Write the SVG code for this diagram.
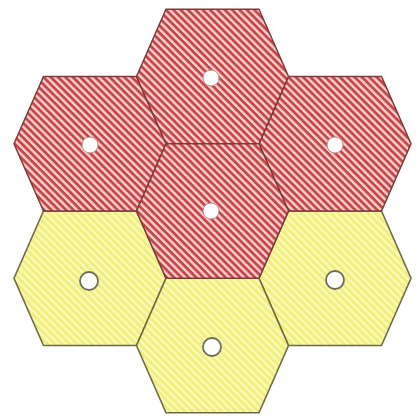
<svg xmlns="http://www.w3.org/2000/svg" width="416" height="417" viewBox="0 0 416 417">
<defs>
<pattern id="red" patternUnits="userSpaceOnUse" width="5.2" height="5.2" patternTransform="rotate(45)">
<rect width="5.2" height="5.2" fill="#f7d2cf"/>
<rect width="5.2" height="2.8" fill="#c8454a"/>
</pattern>
<pattern id="yel" patternUnits="userSpaceOnUse" width="5.2" height="5.2" patternTransform="rotate(45)">
<rect width="5.2" height="5.2" fill="#f1ef78"/>
<rect width="5.2" height="2.1" fill="#fbfac4"/>
</pattern>
<polygon id="hex" points="-76,0 -46.5,-67.25 46.5,-67.25 76,0 46.5,67.25 -46.5,67.25"/>
</defs>
<style>
.r{fill:url(#red);stroke:#7d3a36;stroke-width:1.5}
.y{fill:url(#yel);stroke:#6f6a45;stroke-width:1.6}
.c{fill:#fff;stroke:#6f6c55;stroke-width:1.8}
.cr{fill:#fff;stroke:#b89090;stroke-width:1}
</style>
<rect width="416" height="417" fill="#fff"/>
<g id="hex-bl"><use href="#hex" x="90" y="278.25" class="y"/><circle cx="89" cy="281" r="9" class="c"/></g>
<g id="hex-br"><use href="#hex" x="335" y="278.25" class="y"/><circle cx="335" cy="280" r="9" class="c"/></g>
<g id="hex-b"><use href="#hex" x="212.5" y="345.5" class="y"/><circle cx="212" cy="347" r="9" class="c"/></g>
<g id="hex-tl"><use href="#hex" x="90" y="143.75" class="r"/><circle cx="90" cy="145" r="8" class="cr"/></g>
<g id="hex-tr"><use href="#hex" x="335" y="143.75" class="r"/><circle cx="335" cy="145" r="8" class="cr"/></g>
<g id="hex-t"><use href="#hex" x="212.5" y="76.5" class="r"/><circle cx="211" cy="78" r="8" class="cr"/></g>
<g id="hex-c"><use href="#hex" x="212.5" y="211" class="r"/><circle cx="211" cy="211" r="8" class="cr"/></g>
<g id="connectors"/>
</svg>
